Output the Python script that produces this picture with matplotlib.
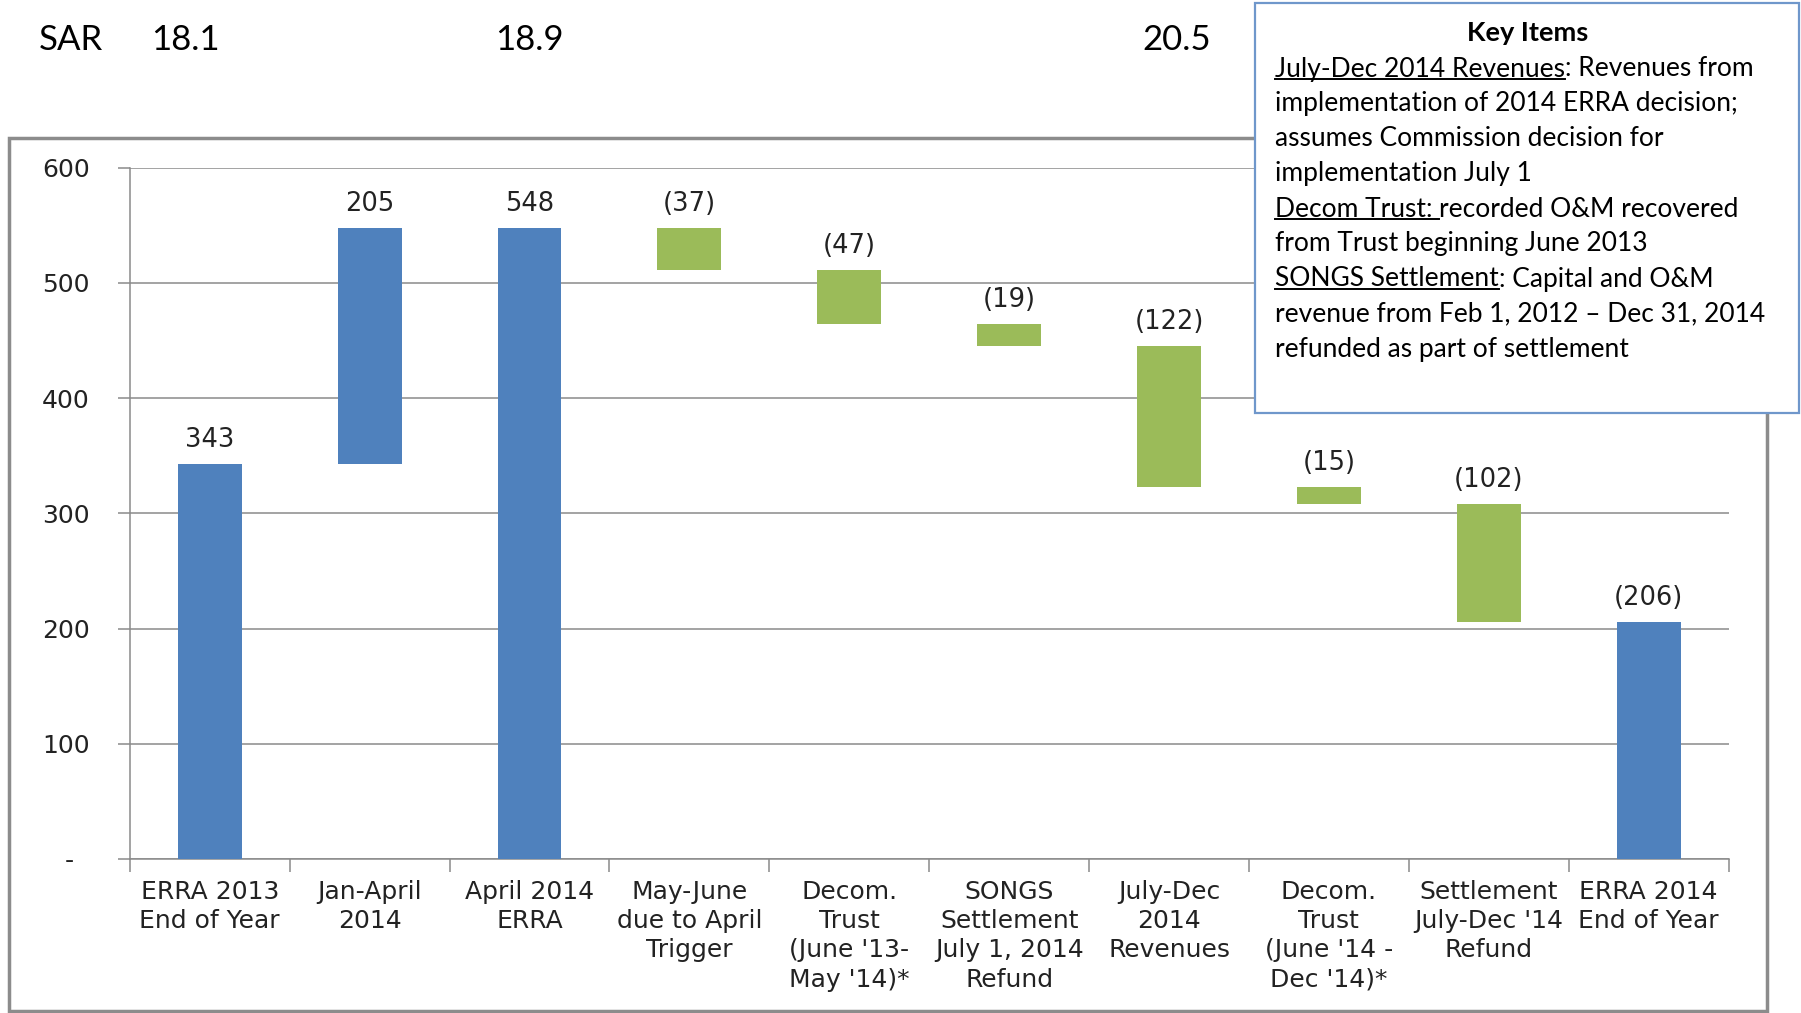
import numpy as np
import matplotlib
matplotlib.use('Agg')
import matplotlib.pyplot as plt
from matplotlib.patches import Rectangle
import matplotlib.transforms as mtransforms

# waterfall data
categories = ["ERRA 2013\nEnd of Year", "Jan-April\n2014", "April 2014\nERRA",
              "May-June\ndue to April\nTrigger", "Decom.\nTrust\n(June '13-\nMay '14)*",
              "SONGS\nSettlement\nJuly 1, 2014\nRefund", "July-Dec\n2014\nRevenues",
              "Decom.\nTrust\n(June '14 -\nDec '14)*", "Settlement\nJuly-Dec '14\nRefund",
              "ERRA 2014\nEnd of Year"]
steps = [343, 205, 0, -37, -47, -19, -122, -15, -102, 0]
is_total = [True, False, True, False, False, False, False, False, False, True]
bar_labels = ['343', '205', '548', '(37)', '(47)', '(19)', '(122)', '(15)', '(102)', '(206)']

sar_values = ['18.1', '18.9', '20.5']
sar_pos = [-0.15, 2.0, 6.05]

yticks = [0, 100, 200, 300, 400, 500, 600]
ytick_labels = ['-\u2007', '100', '200', '300', '400', '500', '600']

key_lines = [
    ("July-Dec 2014 Revenues", ": Revenues from"),
    ("", "implementation of 2014 ERRA decision;"),
    ("", "assumes Commission decision for"),
    ("", "implementation July 1"),
    ("Decom Trust: ", "recorded O&M recovered"),
    ("", "from Trust beginning June 2013"),
    ("SONGS Settlement", ": Capital and O&M"),
    ("", "revenue from Feb 1, 2012 \u2013 Dec 31, 2014"),
    ("", "refunded as part of settlement"),
]

BLUE = '#4F81BD'
GREEN = '#9BBB59'
W, H = 1801, 1013

level = 0
bottoms, heights, colors, tops = [], [], [], []
for s, tot in zip(steps, is_total):
    if tot:
        level += s
        bottoms.append(0)
        heights.append(level)
        colors.append(BLUE)
        tops.append(level)
    else:
        new = level + s
        bottoms.append(min(level, new))
        heights.append(abs(s))
        colors.append(BLUE if s >= 0 else GREEN)
        tops.append(max(level, new))
        level = new

fig = plt.figure(figsize=(W / 100, H / 100), dpi=100)
ax = fig.add_axes([129.8 / W, 1 - 859 / H, (1728.6 - 129.8) / W, (859 - 167.7) / H])

x = np.arange(len(categories))
ax.bar(x, heights, bottom=bottoms, width=0.4, color=colors, zorder=3)
for xi, top, lab in zip(x, tops, bar_labels):
    ax.annotate(lab, (xi, top), xytext=(0, 8), textcoords='offset points',
                ha='center', va='bottom', fontsize=18.5, color='#222222')

ax.set_xlim(-0.5, len(categories) - 0.5)
ax.set_ylim(0, 600)
ax.set_yticks(yticks)
ax.set_yticklabels(ytick_labels, fontsize=18, color='#222222')
ax.yaxis.grid(True, color='#8a8a8a', linewidth=1.1, zorder=0)
ax.set_axisbelow(True)
ax.set_xticks(x)
ax.set_xticklabels(categories, fontsize=18, color='#222222', linespacing=1.28)
ax.set_xticks(np.arange(-0.5, len(categories)), minor=True)
ax.tick_params(axis='x', which='major', length=0, pad=15)
ax.tick_params(axis='x', which='minor', length=9, color='#8a8a8a', width=1.1)
ax.tick_params(axis='y', length=9, color='#8a8a8a', width=1.1, pad=20)
for sp in ['top', 'right']:
    ax.spines[sp].set_visible(False)
for sp in ['left', 'bottom']:
    ax.spines[sp].set_color('#8a8a8a')
    ax.spines[sp].set_linewidth(1.1)

# outer chart frame
fig.add_artist(Rectangle((9 / W, 1 - 1011 / H), (1767 - 9) / W, (1011 - 138) / H,
                         transform=fig.transFigure, fill=False, ec='#8c8c8c', lw=2.5, zorder=-1))

# SAR row
fig.text(71 / W, 1 - 40 / H, 'SAR', ha='center', va='center', fontsize=25, family='Lato')
trans = mtransforms.blended_transform_factory(ax.transData, fig.transFigure)
for v, p in zip(sar_values, sar_pos):
    fig.text(p, 1 - 40 / H, v, transform=trans, ha='center', va='center', fontsize=25, family='Lato')

# key items box
fig.add_artist(Rectangle((1255 / W, 1 - 413 / H), (1799 - 1255) / W, (413 - 3) / H,
                         transform=fig.transFigure, fc='white', ec='#6F97CB', lw=1.6, zorder=10))
fig.text(1528 / W, 1 - 33 / H, 'Key Items', ha='center', va='center', fontsize=19.5,
         family='Lato', weight='bold', zorder=11)

fig.canvas.draw()
renderer = fig.canvas.get_renderer()
x0 = 1275 / W
for i, (ul, rest) in enumerate(key_lines):
    y = 1 - (69 + i * 35) / H
    xr = x0
    if ul:
        t = fig.text(x0, y, ul, ha='left', va='center', fontsize=19, family='Lato', zorder=11)
        bb = t.get_window_extent(renderer)
        xr = bb.x1 / W
        yl = (bb.y0 + 2) / H
        fig.add_artist(plt.Line2D([x0, xr], [yl, yl], transform=fig.transFigure,
                                  color='black', lw=1.4, zorder=11))
    fig.text(xr, y, rest, ha='left', va='center', fontsize=19, family='Lato', zorder=11)

fig.savefig('out.png', dpi=100)
